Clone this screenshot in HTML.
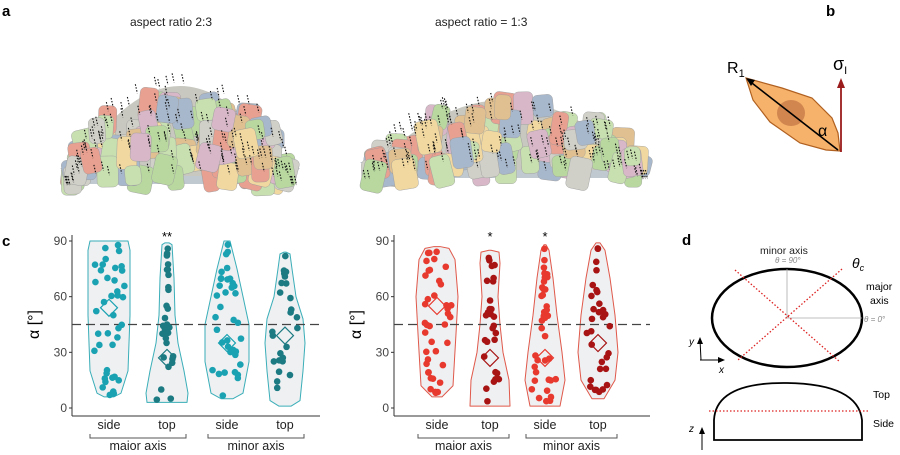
<!DOCTYPE html>
<html><head><meta charset="utf-8"><style>
body{margin:0;background:#fff;width:900px;height:450px;overflow:hidden;font-family:"Liberation Sans",sans-serif}
svg text{font-family:"Liberation Sans",sans-serif}
</style></head><body>
<svg id="s" width="900" height="450" viewBox="0 0 900 450" xmlns="http://www.w3.org/2000/svg">
<rect width="900" height="450" fill="#fff"/>
<text x="2" y="16" font-size="15" font-weight="bold">a</text>
<text x="826" y="16" font-size="15" font-weight="bold">b</text>
<text x="2" y="246" font-size="15" font-weight="bold">c</text>
<text x="682" y="245" font-size="15" font-weight="bold">d</text>
<text x="130" y="26" font-size="12" fill="#222">aspect ratio 2:3</text>
<text x="435" y="26" font-size="12" fill="#222">aspect ratio = 1:3</text>
<g id="img1"></g><g id="img2"></g>
<g>
<polygon points="746,78 782,88 812,98 832,118 838,133 840,151 826,150 800,143 770,122 753,100" fill="#f6b26b" stroke="#b06020" stroke-width="1.2"/>
<ellipse cx="791" cy="113" rx="14" ry="13" fill="#c87a4a" opacity="0.8"/>
<line x1="748" y1="80" x2="838" y2="150" stroke="#000" stroke-width="1.6"/>
<polygon points="746,78 755,80 751,86" fill="#000"/>
<line x1="841" y1="152" x2="841" y2="82" stroke="#9b1c1c" stroke-width="1.8"/>
<polygon points="841,78 837,88 845,88" fill="#9b1c1c"/>
<text x="727" y="73" font-size="16" font-family="Liberation Serif">R<tspan font-size="11" dy="4">1</tspan></text>
<text x="833" y="70" font-size="18" font-family="Liberation Serif">σ<tspan font-size="11" dy="4">I</tspan></text>
<text x="818" y="136" font-size="16" font-family="Liberation Serif">α</text>
</g>
<g>
<text x="760" y="254" font-size="10.5" fill="#222">minor axis</text>
<text x="775" y="263" font-size="8" fill="#888" font-style="italic" font-family="Liberation Serif">θ = 90°</text>
<text x="852" y="268" font-size="14" font-family="Liberation Serif" font-style="italic">θ<tspan font-size="9" dy="3">c</tspan></text>
<text x="866" y="290" font-size="10.5">major</text>
<text x="870" y="304" font-size="10.5">axis</text>
<text x="864" y="322" font-size="8" fill="#888" font-style="italic" font-family="Liberation Serif">θ = 0°</text>
<ellipse cx="787" cy="318" rx="75" ry="49" fill="none" stroke="#000" stroke-width="2.5"/>
<line x1="787" y1="269" x2="787" y2="318" stroke="#aaa" stroke-width="0.8"/>
<line x1="787" y1="318" x2="862" y2="318" stroke="#aaa" stroke-width="0.8"/>
<line x1="735" y1="270" x2="840" y2="362" stroke="#d22" stroke-width="1.3" stroke-dasharray="1.5,2"/>
<line x1="842" y1="269" x2="738" y2="360" stroke="#d22" stroke-width="1.3" stroke-dasharray="1.5,2"/>
<line x1="701" y1="360" x2="700" y2="340" stroke="#000" stroke-width="1"/><polygon points="700,337 697,344 703,344"/>
<line x1="700" y1="360" x2="722" y2="360" stroke="#000" stroke-width="1"/><polygon points="725,360 718,357 718,363"/>
<text x="689" y="345" font-size="10" font-style="italic">y</text>
<text x="719" y="373" font-size="10" font-style="italic">x</text>
<path d="M714,440 L714,420 Q716,382 787,383 Q858,384 862,420 L862,440 Z" fill="none" stroke="#000" stroke-width="1.8"/>
<line x1="709" y1="411" x2="868" y2="411" stroke="#d22" stroke-width="1.3" stroke-dasharray="1.5,2"/>
<text x="873" y="398" font-size="10.5">Top</text>
<text x="873" y="427" font-size="10.5">Side</text>
<line x1="702" y1="450" x2="702" y2="430" stroke="#000"/><polygon points="702,427 699,434 705,434"/>
<text x="689" y="432" font-size="10" font-style="italic">z</text>
</g>
<g id="c1"></g><g id="c2"></g>
</svg>
<script>
var NS="http://www.w3.org/2000/svg";
function el(p,t,a,txt){var e=document.createElementNS(NS,t);for(var k in a)e.setAttribute(k,a[k]);if(txt!=null)e.textContent=txt;p.appendChild(e);return e;}
var seed=7;function rnd(){seed=(seed*16807)%2147483647;return seed/2147483647;}
function img(g,cx,base,w,h,n){g=document.getElementById(g);
 var cols=['#e8a090','#b8d8a0','#a8b8cc','#f0d8a0','#d8b8c8','#c8e0b0','#e0c090','#d0d0c8'];
 el(g,'polygon',{points:(cx-w/2-10)+','+(base-8)+' '+(cx+w/2+10)+','+(base-8)+' '+(cx+w/2-5)+','+(base+8)+' '+(cx-w/2+10)+','+(base+8),fill:'#c0c8d0'});
 el(g,'path',{d:'M'+(cx-w/2)+','+base+' Q'+cx+','+(base-2*h+10)+' '+(cx+w/2)+','+base+' Z',fill:'#c8c8c0'});
 for(var i=0;i<n;i++){var t=rnd()*2-1;var x=cx+t*w/2;var top=base-h*Math.sqrt(Math.max(0,1-t*t));var y=top+6+rnd()*(base-top-6);
  el(g,'rect',{x:x-9,y:y-10,width:16+rnd()*8,height:18+rnd()*16,rx:5,fill:cols[i%8],stroke:'#9a9a9a','stroke-width':0.4,transform:'rotate('+(rnd()*30-15)+' '+x+' '+y+')'});}
 for(var i=0;i<n*1.4;i++){var t=rnd()*2.1-1.05;var x=cx+t*w/2;var top=base-(h+8)*Math.sqrt(Math.max(0,1-t*t));var y=top+rnd()*(base-top)*0.9;
  el(g,'line',{x1:x,y1:y,x2:x+2,y2:y+9,stroke:'#111','stroke-width':1.1,'stroke-dasharray':'1.5,1.5'});}
}
img('img1',180,176,220,95,110);img('img2',505,170,270,75,110);
function chart(gid,ax,cats,stroke,dcols,viol,dots,diam,stars){
 var g=document.getElementById(gid),y0=408,y90=241,sc=(y0-y90)/90;function Y(d){return y0-d*sc;}
 var xe=cats[3]+35+(ax>300?17:0);
 el(g,'line',{x1:ax,y1:235,x2:ax,y2:416,stroke:'#333','stroke-width':1});
 el(g,'line',{x1:ax,y1:416,x2:xe,y2:416,stroke:'#333','stroke-width':1});
 [0,30,60,90].forEach(function(v){el(g,'text',{x:ax-5,y:Y(v)+4,'font-size':12,'text-anchor':'end',fill:'#444'},v);el(g,'line',{x1:ax-3,y1:Y(v),x2:ax,y2:Y(v),stroke:'#333'});});
 el(g,'text',{x:0,y:0,'font-size':16,transform:'translate('+(ax-33)+','+(Y(45))+') rotate(-90)','text-anchor':'middle'},'α [°]');
 for(var i=0;i<4;i++){var c=cats[i],v=viol[i],L='';
  v.forEach(function(p,j){L+=(j?'L':'M')+(c-p[1])+','+Y(p[0]);});
  for(var j=v.length-1;j>=0;j--)L+='L'+(c+v[j][1])+','+Y(v[j][0]);
  el(g,'path',{d:L+'Z',fill:'#eef0f2',stroke:stroke,'stroke-width':1,'stroke-linejoin':'round'});}
 el(g,'line',{x1:ax,y1:Y(45),x2:xe,y2:Y(45),stroke:'#444','stroke-width':1.2,'stroke-dasharray':'9,5'});
 for(var i=0;i<4;i++){var c=cats[i],v=viol[i];var lo=v[0][0],hi=v[v.length-1][0];
  for(var k=0;k<dots[i];k++){var d=lo+1+rnd()*(hi-lo-2);
   var w=0;for(var j=0;j<v.length-1;j++)if(d>=v[j][0]&&d<=v[j+1][0]){var f=(d-v[j][0])/(v[j+1][0]-v[j][0]);w=v[j][1]+(v[j+1][1]-v[j][1])*f;}
   el(g,'circle',{cx:c+(rnd()*2-1)*Math.max(1,w-5),cy:Y(d),r:3.3,fill:dcols[i%2]});}
  var dy=Y(diam[i]);el(g,'rect',{x:c-6,y:dy-6,width:12,height:12,fill:'none',stroke:dcols[i%2],'stroke-width':1.2,transform:'rotate(45 '+c+' '+dy+')'});
  el(g,'text',{x:c,y:429,'font-size':12.5,'text-anchor':'middle',fill:'#222'},i%2?'top':'side');
  if(stars[i])el(g,'text',{x:c,y:241,'font-size':13,'text-anchor':'middle'},stars[i]);}
 for(var p=0;p<2;p++){var a=cats[2*p]-19,b=cats[2*p+1]+19;el(g,'path',{d:'M'+a+',434 L'+a+',438 L'+b+',438 L'+b+',434',fill:'none',stroke:'#555'});
  el(g,'text',{x:(a+b)/2,y:450,'font-size':12.5,'text-anchor':'middle',fill:'#222'},p?'minor axis':'major axis');}
}
var V1=[[[6,5],[8,12],[20,19],[50,21],[85,21],[90,19]],
[[3,20],[8,21],[20,17],[35,11],[50,8],[70,7],[88,5],[89,2]],
[[5,6],[8,16],[25,22],[45,22],[60,16],[75,10],[90,3]],
[[1,6],[4,15],[20,18],[35,20],[48,18],[60,11],[75,7],[83,5],[84,1]]];
chart('c1',72,[109,167,227,285],'#3aaeb8',['#1aa2b2','#1c7a82'],V1,[40,30,38,25],[54,27,35,39],['','**','','']);
var V2=[[[6,5],[12,16],[40,19],[60,21],[80,18],[86,12],[87,3]],
[[1,20],[15,19],[30,13],[45,10],[60,8],[78,10],[84,9],[85,1]],
[[1,15],[15,20],[30,17],[50,12],[70,8],[85,4],[88,1]],
[[5,6],[15,17],[30,20],[50,17],[70,12],[85,7],[89,2]]];
chart('c2',394,[437,490,545,598],'#e0584a',['#e8392e','#a81414'],V2,[40,28,38,32],[55,27,27,35],['','*','*','']);
</script>
</body></html>
